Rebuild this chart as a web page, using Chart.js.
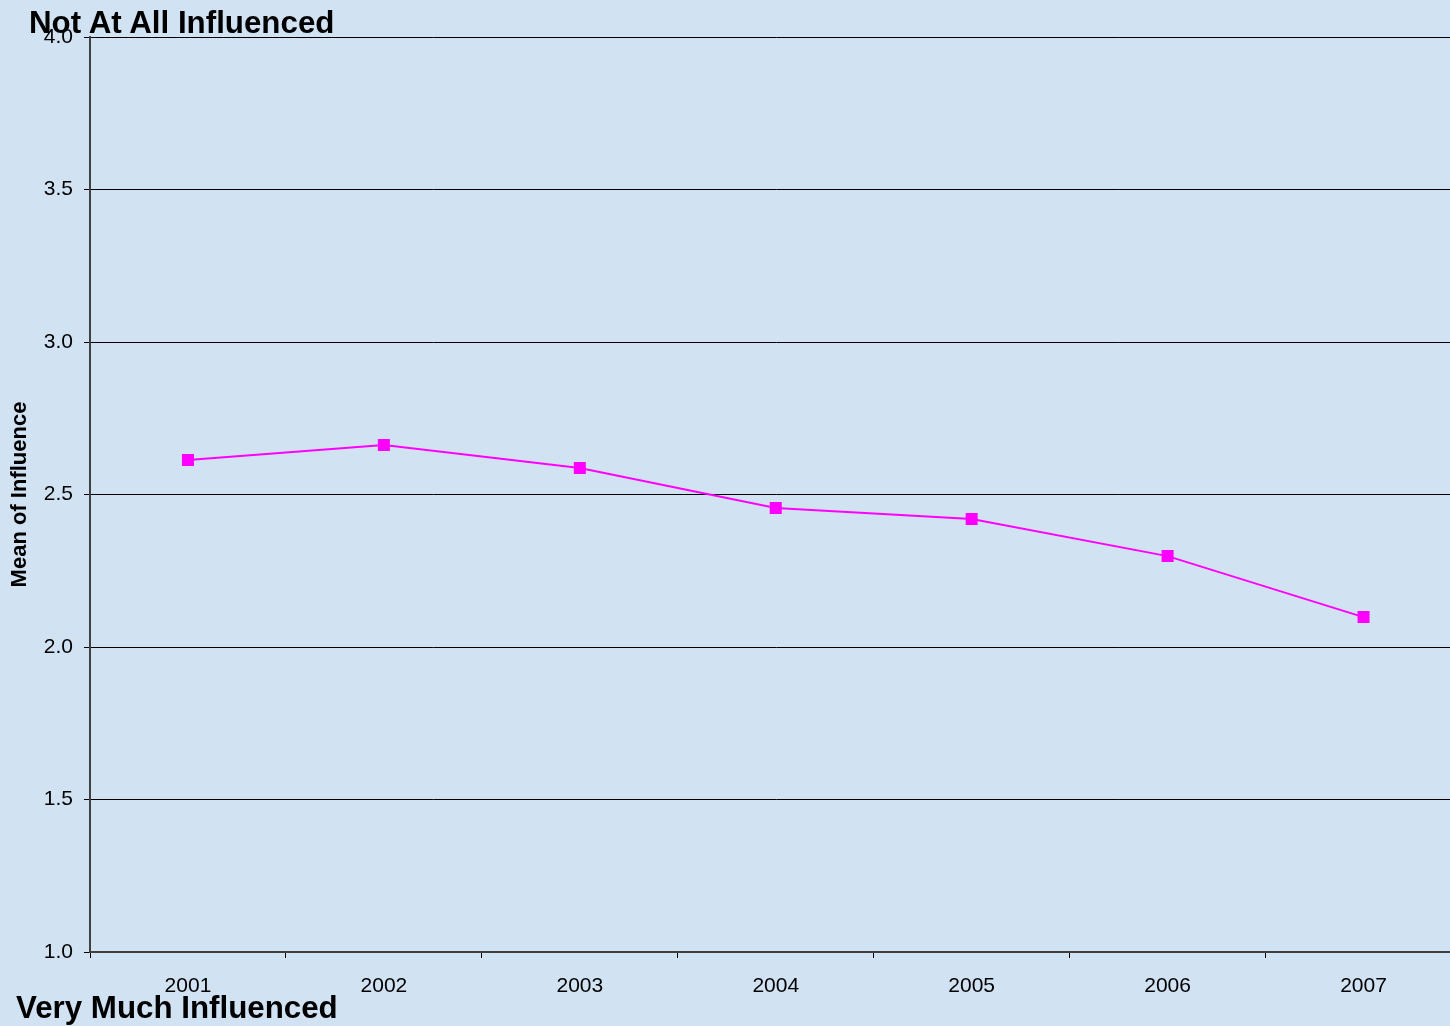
<!DOCTYPE html>
<html>
<head>
<meta charset="utf-8">
<script src="https://cdn.jsdelivr.net/npm/chart.js@4"></script>
<style>
  html, body { margin: 0; padding: 0; background: #d1e2f2; overflow: hidden; }
  #wrap { position: relative; width: 1470px; height: 1026px; }
  .lbl { position: absolute; font-family: "Liberation Sans", Arial, sans-serif; font-weight: bold; color: #000; white-space: nowrap; }
</style>
</head>
<body>
<div id="wrap">
  <canvas id="myChart"></canvas>
  <div class="lbl" style="left:29px; top:5px; font-size:31.3px;">Not At All Influenced</div>
  <div class="lbl" style="left:16px; top:990px; font-size:31.3px;">Very Much Influenced</div>
</div>
<script>
const ctx = document.getElementById("myChart");
const years = ["2001", "2002", "2003", "2004", "2005", "2006", "2007"];
const meanInfluence = [2.613, 2.662, 2.587, 2.456, 2.420, 2.298, 2.098];
const yTicks = [1.0, 1.5, 2.0, 2.5, 3.0, 3.5, 4.0];

const font = "'Liberation Sans', Arial, sans-serif";

new Chart(ctx, {
  type: "line",
  data: {
    labels: years,
    datasets: [
      {
        label: "Mean of Influence",
        data: meanInfluence,
        borderColor: "#ff00ff",
        backgroundColor: "#ff00ff",
        borderWidth: 2,
        pointStyle: "rect",
        pointRadius: 8.5,
        pointBorderWidth: 0,
        tension: 0,
        fill: false,
      },
    ],
  },
  options: {
    responsive: true,
    maintainAspectRatio: false,
    animation: false,
    layout: { padding: { top: 37, right: 1, bottom: 0, left: 0 } },
    plugins: { legend: { display: false }, tooltip: { enabled: false } },
    scales: {
      x: {
        offset: true,
        grid: {
          offset: true,
          drawOnChartArea: false, // only the small tick marks below the axis
          drawTicks: true,
          tickLength: 6,
          color: "#000",
        },
        border: { color: "#404040", width: 2 },
        ticks: { color: "#000", padding: 16, font: { family: font, size: 21 } },
        afterFit: (s) => { s.height = 74; },
      },
      y: {
        min: 1,
        max: 4,
        afterBuildTicks: (s) => { s.ticks = yTicks.map((v) => ({ value: v })); },
        grid: { color: "#000", lineWidth: 1, tickLength: 6 },
        border: { color: "#404040", width: 2 },
        ticks: {
          color: "#000",
          padding: 11,
          font: { family: font, size: 21 },
          callback: (v) => v.toFixed(1),
        },
        title: {
          display: true,
          text: "Mean of Influence",
          color: "#000",
          padding: { top: 7, bottom: 0 },
          font: { family: font, size: 22, weight: "bold" },
        },
        afterFit: (s) => { s.width = 90; },
      },
    },
  },
});
</script>
</body>
</html>
